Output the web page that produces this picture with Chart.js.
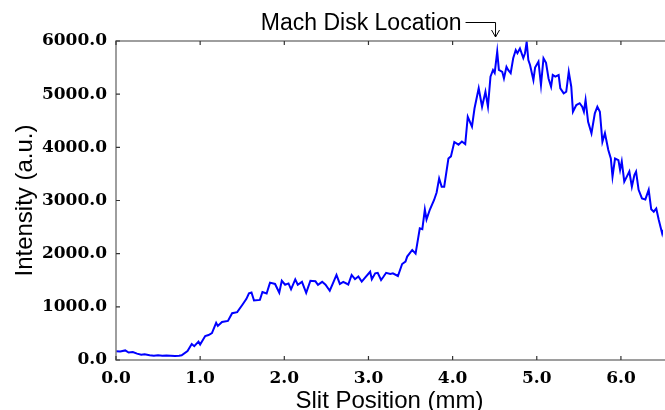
<!DOCTYPE html>
<html>
<head>
<meta charset="utf-8">
<script src="https://cdn.jsdelivr.net/npm/chart.js@4.4.1/dist/chart.umd.min.js"></script>
<style>
  html, body { margin: 0; padding: 0; background: #fff; }
  #wrap { width: 665px; height: 410px; }
</style>
</head>
<body>
<div id="wrap"><canvas id="profile"></canvas></div>
<script>
// slit scan: position along the slit (mm) and measured intensity (a.u.)
const slitPos = [
  0.00, 0.05, 0.11, 0.15, 0.20, 0.25, 0.30, 0.34, 0.40, 0.45, 0.50, 0.55, 0.60, 0.65, 0.70, 0.75,
  0.78, 0.85, 0.90, 0.93, 0.98, 1.00, 1.06, 1.10, 1.14, 1.19, 1.21, 1.26, 1.33, 1.38, 1.44, 1.50,
  1.55, 1.58, 1.61, 1.64, 1.71, 1.74, 1.79, 1.83, 1.89, 1.94, 1.97, 2.01, 2.05, 2.08, 2.13, 2.16,
  2.21, 2.26, 2.31, 2.37, 2.40, 2.45, 2.49, 2.54, 2.58, 2.62, 2.66, 2.70, 2.76, 2.80, 2.84, 2.88,
  2.92, 2.96, 3.02, 3.04, 3.08, 3.11, 3.15, 3.18, 3.21, 3.26, 3.29, 3.35, 3.40, 3.44, 3.46, 3.52,
  3.56, 3.61, 3.64, 3.67, 3.69, 3.73, 3.78, 3.81, 3.84, 3.87, 3.90, 3.95, 3.98, 4.02, 4.07, 4.11,
  4.15, 4.18, 4.23, 4.26, 4.31, 4.35, 4.39, 4.42, 4.45, 4.48, 4.50, 4.53, 4.55, 4.59, 4.61, 4.64,
  4.66, 4.69, 4.72, 4.75, 4.77, 4.80, 4.84, 4.86, 4.88, 4.90, 4.92, 4.96, 4.98, 5.02, 5.05, 5.08,
  5.11, 5.14, 5.17, 5.19, 5.22, 5.26, 5.28, 5.32, 5.35, 5.38, 5.41, 5.43, 5.47, 5.51, 5.54, 5.56,
  5.58, 5.61, 5.65, 5.69, 5.72, 5.75, 5.78, 5.81, 5.85, 5.88, 5.90, 5.93, 5.97, 5.99, 6.01, 6.04,
  6.07, 6.10, 6.13, 6.16, 6.18, 6.21, 6.25, 6.29, 6.33, 6.36, 6.39, 6.42, 6.45, 6.49, 6.50
];
const intensity = [
  165, 160, 180, 140, 150, 120, 100, 110, 90, 80, 90, 80, 85, 80, 75, 80,
  90, 170, 300, 260, 345, 290, 450, 470, 505, 700, 640, 715, 735, 880, 900, 1035,
  1150, 1255, 1270, 1120, 1130, 1280, 1250, 1455, 1430, 1265, 1490, 1415, 1440, 1330, 1517, 1415,
  1470, 1265, 1490, 1480, 1415, 1470, 1415, 1303, 1450, 1600, 1430, 1470, 1420, 1600, 1520, 1570,
  1475, 1550, 1660, 1520, 1630, 1640, 1505, 1570, 1640, 1620, 1630, 1580, 1805, 1850, 1945, 2070,
  2000, 2475, 2460, 2830, 2645, 2830, 3010, 3150, 3415, 3260, 3260, 3790, 3830, 4100, 4050, 4110,
  4060, 4575, 4390, 4730, 5110, 4765, 5045, 4765, 5330, 5455, 5400, 5800, 5455, 5420, 5295, 5515,
  5455, 5395, 5675, 5830, 5770, 5860, 5680, 5770, 5985, 5640, 5550, 5265, 5500, 5610, 5170, 5675,
  5590, 5295, 5140, 5360, 5330, 5360, 5110, 5015, 5045, 5420, 5140, 4670, 4795, 4830, 4765, 4670,
  4890, 4480, 4265, 4640, 4765, 4670, 4105, 4265, 3950, 3790, 3450, 3790, 3760, 3575, 3735, 3355,
  3450, 3545, 3260, 3480, 3545, 3200, 3040, 3020, 3200, 2835, 2790, 2850, 2635, 2380, 2450
];

const xTicks = [0, 1, 2, 3, 4, 5, 6];
const yTicks = [0, 1000, 2000, 3000, 4000, 5000, 6000];

const machDiskPos = 4.51;
const machDiskLabel = 'Mach Disk Location';

const axisColor = '#7f7f7f';
const tickFont = { family: 'DejaVu Serif', size: 17, weight: 'bold', lineHeight: 1 };
const titleFont = { family: 'Liberation Sans', size: 24, lineHeight: 0.75 };

// left/top/bottom spines with short inward ticks, plus the mach disk callout
const framePlugin = {
  id: 'frame',
  afterDraw(chart) {
    const { ctx, chartArea: a, scales } = chart;
    const xs = scales.x, ys = scales.y;
    ctx.save();
    ctx.strokeStyle = axisColor;
    ctx.lineWidth = 1.5;
    ctx.beginPath();
    ctx.moveTo(a.right + 2, a.top);
    ctx.lineTo(a.left, a.top);
    ctx.lineTo(a.left, a.bottom);
    ctx.lineTo(a.right + 2, a.bottom);
    ctx.stroke();

    ctx.lineWidth = 1.2;
    ctx.strokeStyle = '#333';
    ctx.beginPath();
    xTicks.forEach(v => {
      const px = xs.getPixelForValue(v);
      ctx.moveTo(px, a.bottom);
      ctx.lineTo(px, a.bottom - 4);
      ctx.moveTo(px, a.top);
      ctx.lineTo(px, a.top + 4);
    });
    yTicks.forEach(v => {
      const py = ys.getPixelForValue(v);
      ctx.moveTo(a.left, py);
      ctx.lineTo(a.left + 4, py);
    });
    ctx.stroke();

    // callout arrow
    const tipX = xs.getPixelForValue(machDiskPos);
    const tipY = a.top - 4;
    const barY = a.top - 18.5;
    ctx.strokeStyle = '#000';
    ctx.lineWidth = 1;
    ctx.beginPath();
    ctx.moveTo(tipX - 30, barY);
    ctx.lineTo(tipX, barY);
    ctx.lineTo(tipX, tipY);
    ctx.moveTo(tipX - 4, tipY - 7);
    ctx.lineTo(tipX, tipY);
    ctx.lineTo(tipX + 4, tipY - 7);
    ctx.stroke();

    ctx.fillStyle = '#000';
    ctx.font = '23px "Liberation Sans"';
    ctx.textAlign = 'right';
    ctx.textBaseline = 'alphabetic';
    ctx.fillText(machDiskLabel, tipX - 34, a.top - 11.5);
    ctx.restore();
  }
};

new Chart(document.getElementById('profile'), {
  type: 'line',
  data: {
    datasets: [{
      data: slitPos.map((x, i) => ({ x: x, y: intensity[i] })),
      borderColor: '#0000ff',
      borderWidth: 2,
      pointRadius: 0,
      tension: 0,
      fill: false
    }]
  },
  options: {
    responsive: true,
    maintainAspectRatio: false,
    animation: false,
    layout: { padding: { top: 41, right: 2, left: 0, bottom: 0 } },
    plugins: {
      legend: { display: false },
      tooltip: { enabled: false }
    },
    scales: {
      x: {
        type: 'linear',
        min: 0,
        max: 6.5,
        grid: { display: false, drawTicks: false },
        border: { display: false },
        ticks: {
          stepSize: 1,
          includeBounds: false,
          maxRotation: 0,
          padding: 10,
          color: '#000',
          font: tickFont,
          callback: v => v.toFixed(1)
        },
        title: {
          display: true,
          text: 'Slit Position (mm)',
          color: '#000',
          font: titleFont,
          padding: 0
        },
        afterFit(scale) { scale.height = 50; }
      },
      y: {
        min: 0,
        max: 6000,
        grid: { display: false, drawTicks: false },
        border: { display: false },
        ticks: {
          stepSize: 1000,
          padding: 9,
          color: '#000',
          font: tickFont,
          callback: v => v.toFixed(1)
        },
        title: {
          display: true,
          text: 'Intensity (a.u.)',
          color: '#000',
          font: titleFont,
          padding: { top: 16, bottom: 0 }
        },
        afterFit(scale) { scale.width = 116; }
      }
    }
  },
  plugins: [framePlugin]
});
</script>
</body>
</html>
